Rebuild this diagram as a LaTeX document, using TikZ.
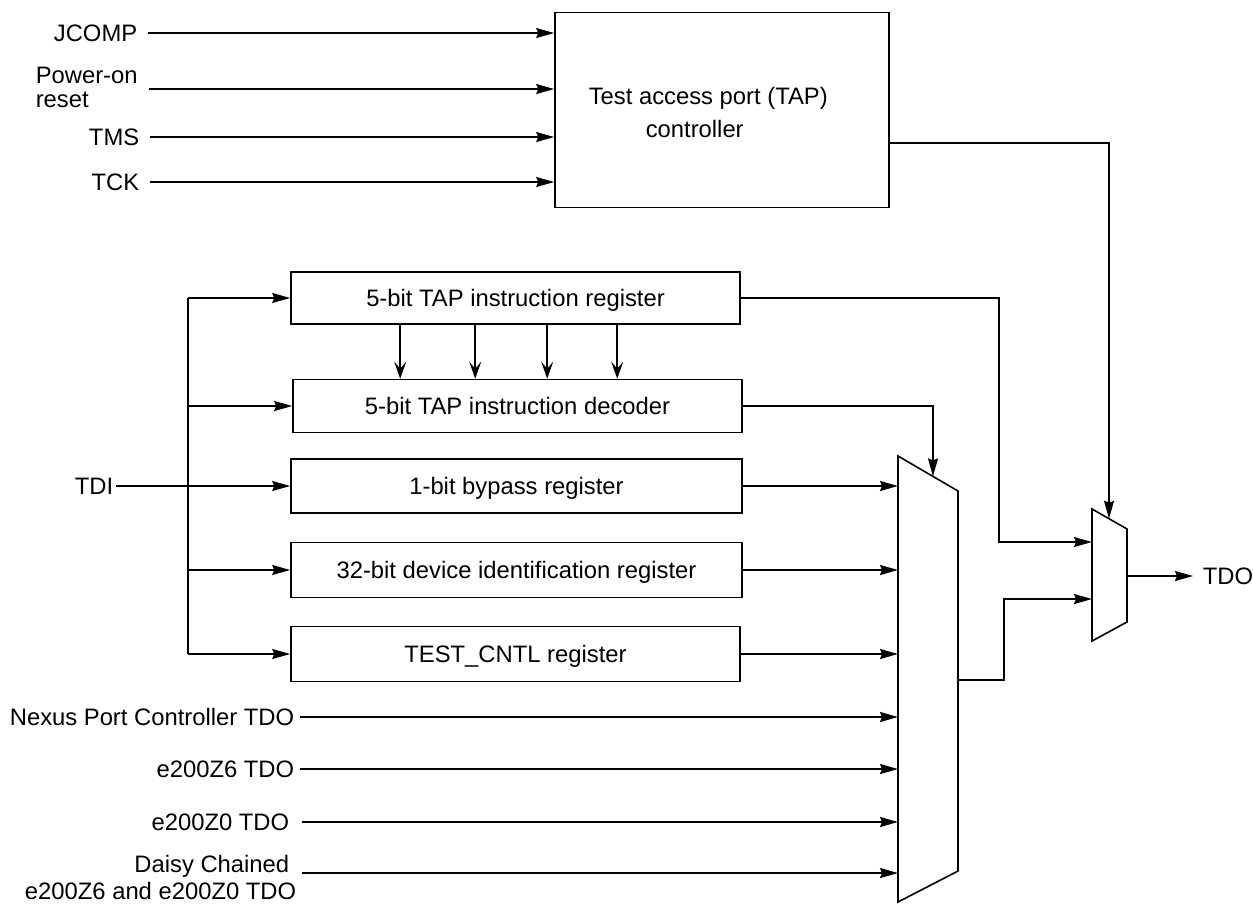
\documentclass[tikz,border=0pt]{standalone}
\usepackage{fontspec}
\setmainfont{Liberation Sans}
\usetikzlibrary{arrows.meta,calc}
\begin{document}
\begin{tikzpicture}[x=1pt,y=-1pt,
  line width=1.6pt,
  every node/.style={font=\fontsize{23.8}{28}\selectfont, inner sep=0pt},
  txt/.style={text height=17pt, text depth=0pt},
  box/.style={draw, txt},
  arr/.style={-{Stealth[length=18pt,width=10pt,inset=2pt]}},
  darr/.style={-{Stealth[length=17pt,width=12pt,inset=7pt]}}]
\useasboundingbox (0,0) rectangle (1253,903);

% TAP controller
\node[box, minimum width=334pt, minimum height=195pt] (tap) at (722,110) {};
\node[anchor=north west, align=left, font=\fontsize{23.8}{33}\selectfont] (taptxt) at (588,86)
  {Test access port (TAP)\\\hspace*{57pt}controller};

% registers
\node[box, minimum width=449pt, minimum height=52pt] (ireg) at (515.5,298) {5-bit TAP instruction register};
\node[box, minimum width=449pt, minimum height=53pt] (dec) at (517.5,406) {5-bit TAP instruction decoder};
\node[box, minimum width=451pt, minimum height=54pt] (byp) at (516.5,486) {1-bit bypass register};
\node[box, minimum width=451pt, minimum height=55pt] (idr) at (516.5,570) {32-bit device identification register};
\node[box, minimum width=449pt, minimum height=55pt] (tcr) at (515.5,654) {TEST\_CNTL register};

% left inputs to TAP
\node[txt, anchor=east] (jcomp) at (138,33) {JCOMP};
\coordinate (jin) at (148,33);
\node[anchor=north west, align=left, font=\fontsize{23.8}{24}\selectfont] (por) at (35,66.6) {Power-on\\reset};
\coordinate (pin) at (149,89);
\node[txt, anchor=east] (tms) at (140,137) {TMS};
\coordinate (tin) at (150,137);
\node[txt, anchor=east] (tck) at (140,182) {TCK};
\coordinate (kin) at (150,182);
\draw[arr] (jin) -- (jin -| tap.west);
\draw[arr] (pin) -- (pin -| tap.west);
\draw[arr] (tin) -- (tin -| tap.west);
\draw[arr] (kin) -- (kin -| tap.west);

% TDI bus
\node[txt, anchor=east] (tdi) at (114,486) {TDI};
\coordinate (din) at (116,486);
\coordinate (bt) at (188,298);
\coordinate (bb) at (188,654);
\draw (bt) -- (bb);
\draw[arr] (bt) -- (ireg.west);
\draw[arr] (bt |- dec.west) -- (dec.west);
\draw[arr] (din) -- (byp.west);
\draw[arr] (bt |- idr.west) -- (idr.west);
\draw[arr] (bb) -- (tcr.west);

% register -> decoder
\foreach \dx in {110,185,257,327}
  \draw[darr] ([xshift=\dx pt]ireg.south west) -- ([xshift=\dx pt]ireg.south west |- dec.north);

% big mux
\coordinate (m1) at (898,456);
\coordinate (m2) at (958,491);
\coordinate (m3) at (958,871);
\coordinate (m4) at (898,902);
\draw (m1) -- (m2) -- (m3) -- (m4) -- cycle;

\draw[arr] (byp.east) -- (byp.east -| m1);
\draw[arr] (idr.east) -- (idr.east -| m1);
\draw[arr] (tcr.east) -- (tcr.east -| m1);

\node[txt, anchor=east] (nex) at (295,717) {Nexus Port Controller TDO};
\coordinate (nin) at (300,717);
\node[txt, anchor=east] (z6) at (295,769) {e200Z6 TDO};
\coordinate (z6in) at (300,769);
\node[txt, anchor=east] (z0) at (290,822) {e200Z0 TDO};
\coordinate (z0in) at (302,822);
\node[anchor=north east, align=right, font=\fontsize{23.8}{27}\selectfont] (dsy) at (297,854.5)
  {Daisy Chained\hspace*{7pt}\\e200Z6 and e200Z0 TDO};
\coordinate (dyin) at (302,873);
\draw[arr] (nin) -- (nin -| m1);
\draw[arr] (z6in) -- (z6in -| m1);
\draw[arr] (z0in) -- (z0in -| m1);
\draw[arr] (dyin) -- (dyin -| m1);

\coordinate (ds) at ($(m1)!{35/60}!(m2)$);
\draw[arr] (dec.east) -| (ds);

% output mux
\coordinate (n1) at (1092,509);
\coordinate (n2) at (1127,529);
\coordinate (n3) at (1127,622);
\coordinate (n4) at (1092,641);
\draw (n1) -- (n2) -- (n3) -- (n4) -- cycle;

\coordinate (ts) at ($(n1)!{17/35}!(n2)$);
\coordinate (tapout) at (tap.east |- 0,143);
\draw[arr] (tapout) -| (ts);

\coordinate (c1) at (999,542);
\draw[arr] (ireg.east) -| (c1) -- (c1 -| n1);

\coordinate (mo) at (958,680);
\coordinate (c2) at (1004,599);
\draw[arr] (mo) -| (c2) -- (c2 -| n1);

\coordinate (no) at (1127,576);
\node[txt, anchor=west] (tdo) at (1202,576) {TDO};
\draw[arr] (no) -- ([xshift=-9pt]tdo.west);
\end{tikzpicture}
\end{document}
